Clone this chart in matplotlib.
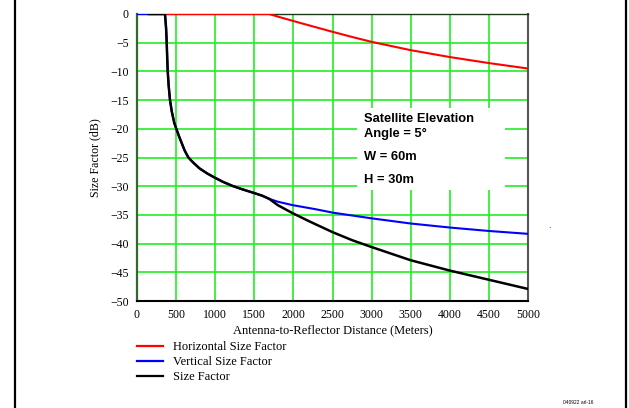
import matplotlib
matplotlib.use("Agg")
import matplotlib.pyplot as plt
from matplotlib.lines import Line2D
from matplotlib.patches import Rectangle

# values
dist_h = [0, 1690, 1800, 2085, 2300, 2500, 2750, 3000, 3500, 4000, 4500, 5000]
horiz = [0, 0, -0.45, -1.55, -2.35, -3.1, -4.0, -4.85, -6.3, -7.5, -8.55, -9.5]

dist_knee = [358, 372, 380, 386, 393, 405, 422, 445, 477, 508, 540, 572, 610, 657, 720,
             800, 900, 1000, 1100, 1230, 1360, 1500, 1600, 1690]
knee = [0, -2.5, -5, -7.5, -10, -12.5, -15, -17, -19, -20.2, -21.4, -22.5, -23.8, -25,
        -25.9, -26.9, -27.8, -28.55, -29.25, -30.0, -30.6, -31.2, -31.65, -32.2]

dist_v_tail = [1800, 1990, 2280, 2500, 2750, 3000, 3500, 4000, 4500, 5000]
vert_tail = [-32.7, -33.3, -34.0, -34.6, -35.1, -35.6, -36.5, -37.2, -37.8, -38.3]

dist_s_tail = [1800, 1990, 2200, 2500, 2750, 3000, 3500, 4000, 4500, 5000]
size_tail = [-33.3, -34.7, -36.1, -38.0, -39.4, -40.6, -42.9, -44.7, -46.3, -47.9]

x_ticks = [0, 500, 1000, 1500, 2000, 2500, 3000, 3500, 4000, 4500, 5000]
y_ticks = [0, -5, -10, -15, -20, -25, -30, -35, -40, -45, -50]
labels = ["Horizontal Size Factor", "Vertical Size Factor", "Size Factor"]
colors = ["#ff0000", "#0000ff", "#000000"]
note_lines = ["Satellite Elevation", "Angle = 5\u00b0", "W = 60m", "H = 30m"]

# the vertical curve is flat at 0 from the origin, the total starts a bit later
dist_v = [0] + dist_knee + dist_v_tail
vert = [0] + knee + vert_tail
dist_s = [150] + dist_knee + dist_s_tail
size = [0] + knee + size_tail

W, H = 629, 408
fig = plt.figure(figsize=(W / 100, H / 100), dpi=100)
serif = "Liberation Serif"

ax = fig.add_axes([137 / W, 1 - 301 / H, (528 - 137) / W, (301 - 14) / H])
ax.set_axisbelow(True)
ax.grid(True, color="#22ee22", lw=1.2)

ax.plot(dist_h, horiz, color=colors[0], lw=1.5, zorder=3)
ax.plot(dist_v, vert, color=colors[1], lw=1.5, zorder=3)
ax.plot(dist_s, size, color=colors[2], lw=1.8, zorder=4)

ax.set_xlim(0, 5000)
ax.set_ylim(-50, 0)
ax.set_xticks(x_ticks)
ax.set_yticks(y_ticks)
ax.tick_params(length=0, labelsize=8.5, pad=6)
for t in ax.get_xticklabels() + ax.get_yticklabels():
    t.set_fontfamily(serif)

ax.spines["left"].set_color("#2e6b2e")
ax.spines["left"].set_linewidth(1.6)
ax.spines["bottom"].set_color("black")
ax.spines["bottom"].set_linewidth(1.5)
ax.spines["top"].set_color("#1a3a1a")
ax.spines["top"].set_linewidth(1.0)
ax.spines["right"].set_color("#555555")
ax.spines["right"].set_linewidth(1.5)

ax.set_xlabel("Antenna-to-Reflector Distance (Meters)", fontfamily=serif, fontsize=9, labelpad=2)
ax.set_ylabel("Size Factor (dB)", fontfamily=serif, fontsize=8.6, labelpad=6)

# white note box over the grid
ax.add_patch(Rectangle((2813, -30.7), 4706 - 2813, 30.7 - 16.4, facecolor="white",
                       edgecolor="none", zorder=1))
note_y = [-18.9, -21.5, -25.4, -29.4]
for txt, yy in zip(note_lines, note_y):
    ax.text(2903, yy, txt, fontfamily="Liberation Sans", fontweight="bold",
            fontsize=9.3, va="baseline", ha="left", zorder=5)

handles = [Line2D([], [], color=c, lw=1.6) for c in colors]
fig.legend(handles, labels, loc="upper left", bbox_to_anchor=(136.7 / W, 1 - 341 / H),
           frameon=False, prop={"family": serif, "size": 9}, handlelength=2.13,
           handletextpad=0.75, labelspacing=0.25, borderpad=0, borderaxespad=0)

# frame lines on the sides
fig.add_artist(Line2D([15 / W, 15 / W], [0, 1], color="black", lw=1.6))
fig.add_artist(Line2D([626 / W, 626 / W], [0, 1], color="black", lw=1.6))

fig.text(549 / W, 1 - 226 / H, ".", fontsize=6, ha="center", va="center")
fig.text(578 / W, 1 - 403 / H, "040922 arl-16", fontsize=3.5, ha="center", va="center",
         fontfamily="Liberation Sans")

fig.savefig("out.png", dpi=100)
